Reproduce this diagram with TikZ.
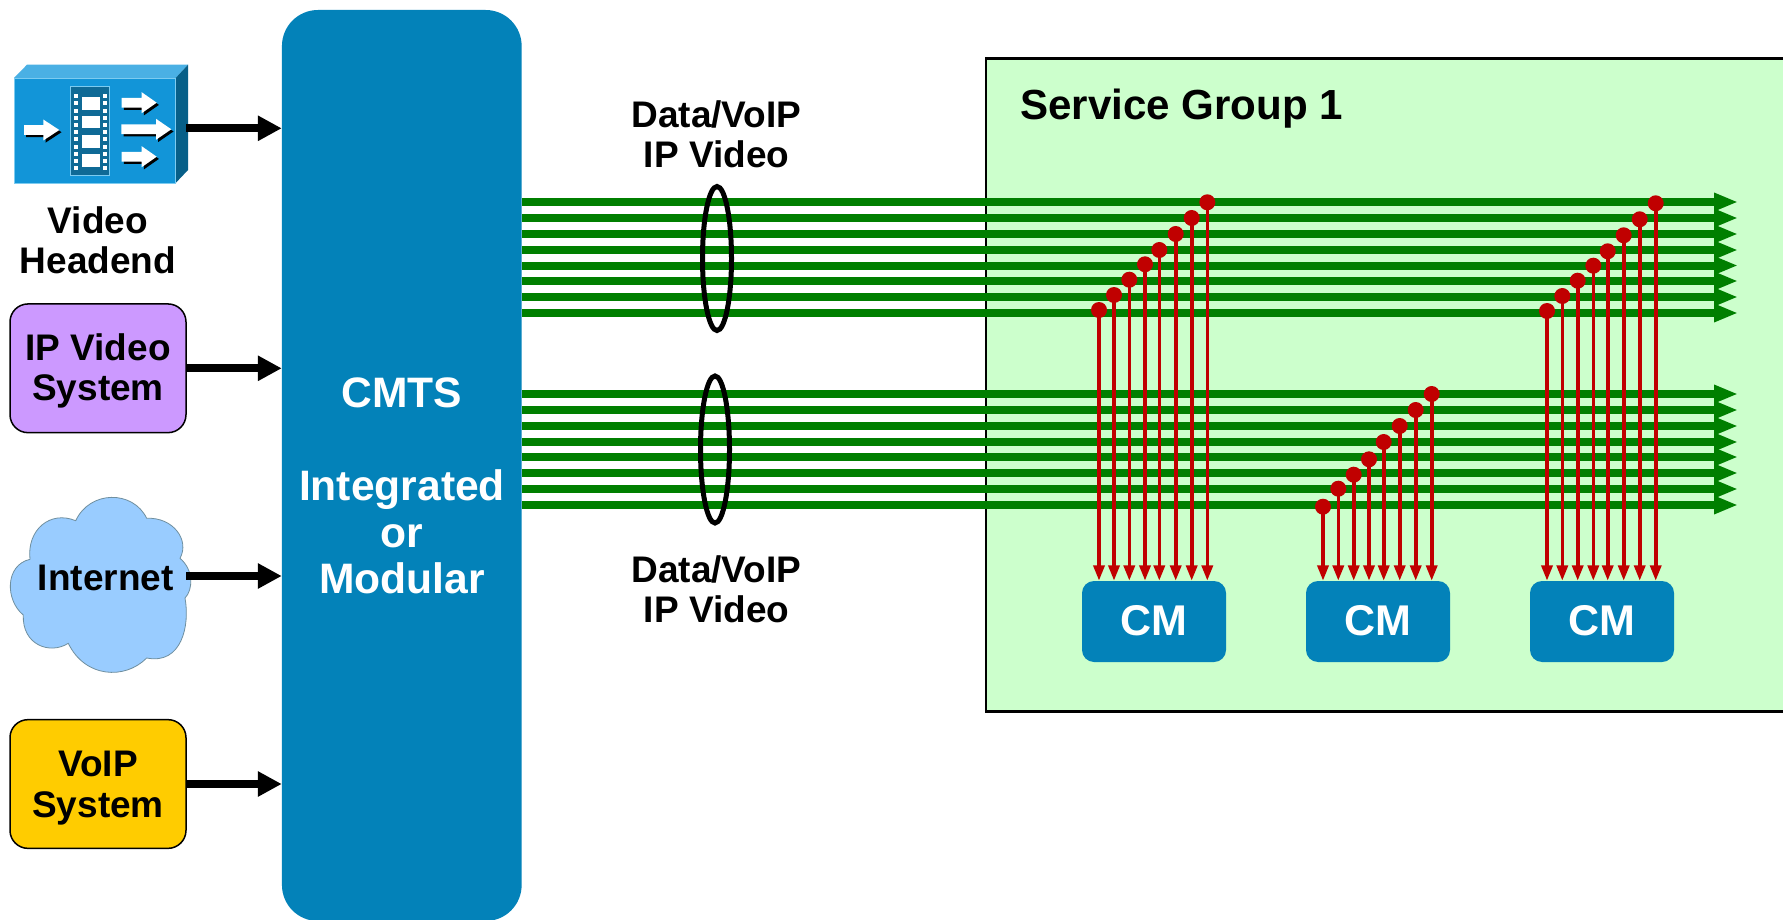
\documentclass[tikz,border=0pt]{standalone}
\usepackage{fontspec}
\setmainfont{Liberation Sans}
\usetikzlibrary{arrows.meta,shapes.geometric}
\definecolor{cmtsblue}{HTML}{0382B9}
\definecolor{sggreen}{HTML}{CCFFCC}
\definecolor{linegreen}{HTML}{007F00}
\definecolor{dropred}{HTML}{C00000}
\definecolor{ipviolet}{HTML}{CC99FF}
\definecolor{voipgold}{HTML}{FFCC00}
\definecolor{cloudblue}{HTML}{99CCFF}
\definecolor{cloudedge}{HTML}{6F8F9F}
\definecolor{iconfront}{HTML}{1295D8}
\definecolor{icontop}{HTML}{4AB0E4}
\definecolor{iconside}{HTML}{075F88}
\definecolor{iconedge}{HTML}{7CCBF0}
\definecolor{filmdark}{HTML}{0F6A96}
\newcommand{\labelfont}{\bfseries\fontsize{37}{40.5}\selectfont}
\newcommand{\bigfont}{\bfseries\fontsize{42.6}{46.5}\selectfont}
\newcommand{\whitearrow}[5]{%
  \fill[black,shift={(2.2,2.2)}] (#1,#4-#5*.47) -- (#2,#4-#5*.47) -- (#2,#4-#5) -- (#3,#4) -- (#2,#4+#5) -- (#2,#4+#5*.47) -- (#1,#4+#5*.47) -- cycle;
  \fill[white] (#1,#4-#5*.47) -- (#2,#4-#5*.47) -- (#2,#4-#5) -- (#3,#4) -- (#2,#4+#5) -- (#2,#4+#5*.47) -- (#1,#4+#5*.47) -- cycle;
}
\tikzset{
  sysbox/.style={draw=black,line width=1.5pt,rounded corners=18pt,minimum width=176pt,minimum height=128.7pt,inner sep=0pt,align=center,font=\labelfont,text=black},
  blockbox/.style={fill=cmtsblue,rounded corners=36pt,minimum width=239.7pt,minimum height=911pt,inner sep=0pt},
  cmbox/.style={fill=cmtsblue,rounded corners=12pt,minimum width=144pt,minimum height=81pt,inner sep=0pt,text=white,font=\bfseries\fontsize{43}{46}\selectfont},
  feedarrow/.style={line width=8pt,-{Triangle[length=24pt,width=24pt]}},
  greenline/.style={draw=linegreen,line width=8pt,-{Triangle[length=24pt,width=17pt]}},
  dropline/.style={draw=dropred,line width=3.6pt,-{Triangle[length=15.5pt,width=11pt]}},
  reddot/.style={circle,fill=dropred,minimum size=16pt,inner sep=0pt},
  bundle/.style={draw=black,line width=5pt,ellipse,minimum width=29pt,minimum height=144pt,inner sep=0pt},
  caption/.style={inner sep=0pt,font=\labelfont,align=center,text=black},
}
\begin{document}
\begin{tikzpicture}[x=1pt,y=-1pt]
\useasboundingbox (0,0) rectangle (1783,920);
\clip (0,0) rectangle (1783,920);
\fill[white] (0,0) rectangle (1783,920);
% service group
\draw[fill=sggreen,line width=2.5pt] (986,58.3) rectangle (1800,711.7);
\node[anchor=base west,inner sep=0pt,font=\bfseries\fontsize{42.1}{46}\selectfont] (sg) at (1020,119.3) {Service Group 1};
% CMTS
\node[blockbox] (cmts) at (401.8,465.5) {};
\node[inner sep=0pt,align=center,text=white,font=\bigfont] (cmtslabel) at (402,486) {CMTS\\ \\Integrated\\or\\Modular};
% CM boxes
\node[cmbox] (cm1) at (1154,621.5) {\rule[-2pt]{0pt}{2pt}CM};
\node[cmbox] (cm2) at (1378,621.5) {\rule[-2pt]{0pt}{2pt}CM};
\node[cmbox] (cm3) at (1602,621.5) {\rule[-2pt]{0pt}{2pt}CM};
% video headend icon
\fill[icontop] (14,78) -- (27,64.7) -- (188,64.7) -- (175.7,78) -- cycle;
\fill[iconside] (175.7,78) -- (188,64.7) -- (188,170) -- (175.7,183) -- cycle;
\node[fill=iconfront,draw=iconedge,line width=.8pt,minimum width=161.7pt,minimum height=105pt,inner sep=0pt] (video) at (94.8,130.5) {};
\draw[iconedge,line width=.8pt,fill=filmdark] (70.7,86.7) rectangle (109.7,175.3);
\foreach \y in {97,115.7,135,154} \fill[white] (81.7,\y) rectangle (100,\y+12.8);
\foreach \n in {0,...,10} {
  \fill[white] (74,{94.3+7.2*\n}) rectangle (78,{98.3+7.2*\n});
  \fill[white] (103,{94.3+7.2*\n}) rectangle (107,{98.3+7.2*\n});
}
\whitearrow{24}{43.3}{59.3}{130}{10.5}
\whitearrow{121.7}{141.7}{156.7}{102.7}{10.5}
\whitearrow{121.3}{156}{171.3}{129.3}{10.5}
\whitearrow{121.7}{141.7}{156.7}{156.7}{10.5}
\coordinate (videoport) at (186,128.3);
\node[caption] (videolabel) at (98,240.5) {Video\\Headend};
% systems
\node[sysbox,fill=ipviolet] (ip) at (98,368.3) {\rule{0pt}{32pt}IP Video\\System};
\node[sysbox,fill=voipgold] (voip) at (98,784) {\rule{0pt}{33.6pt}VoIP\\System};
% cloud
\filldraw[fill=cloudblue,draw=cloudedge,line width=.8pt] (30,559.3)
  .. controls (26.7,530) and (50,510) .. (75.7,520.7)
  .. controls (90,490) and (133,490) .. (146.7,518.3)
  .. controls (173,517) and (190,540) .. (180,558.3)
  .. controls (194,570) and (193,590) .. (185,598)
  .. controls (190,625) and (182,665) .. (146.7,658)
  .. controls (125,680) and (85,678) .. (68.3,643.3)
  .. controls (50,655) and (22,645) .. (23.3,615)
  .. controls (5,600) and (5,565) .. (30,559.3) -- cycle;
\node[anchor=base,inner sep=0pt,font=\labelfont] (internet) at (105.8,590.7) {Internet};
\coordinate (netport) at (186,576);
% feeds
\draw[feedarrow] (videoport) -- (cmts.west |- videoport);
\draw[feedarrow] (ip.east) -- (cmts.west |- ip.east);
\draw[feedarrow] (netport) -- (cmts.west |- netport);
\draw[feedarrow] (voip.east) -- (cmts.west |- voip.east);
% green carriers
\foreach \i/\y in {1/202,2/218,3/234,4/250,5/265.5,6/281,7/297,8/313,9/394,10/410,11/426,12/442,13/457,14/473,15/489,16/505} {
  \coordinate (gend\i) at (1738,\y);
  \draw[greenline] (cmts.east |- gend\i) -- (gend\i);
}
% bundles
\node[bundle] (b1) at (717,258.5) {};
\node[bundle,minimum height=147pt] (b2) at (715,449.5) {};
\node[caption] (l1) at (716.5,134.5) {Data/VoIP\\IP Video};
\node[caption] (l2) at (716.5,589.5) {Data/VoIP\\IP Video};
% drops
\foreach \g/\cm/\pts in {
  a/cm1/{1099/310,1114/295,1129.3/279.7,1145/264.3,1159.3/250,1175.7/234,1191.7/218,1207.3/202.3},
  b/cm2/{1323/506.7,1338.3/488.7,1353.7/474.7,1369/459.3,1383.7/442,1399.7/426,1415.7/410,1431.7/394},
  c/cm3/{1547/311,1562.3/296,1577.7/280.7,1593.3/265.7,1607.7/251.3,1623.7/235.3,1639.7/219.3,1655.7/203.3}} {
  \foreach \x/\y [count=\k] in \pts {
    \node[reddot] (d\g\k) at (\x,\y) {};
    \draw[dropline] (d\g\k.center) -- (d\g\k.center |- \cm.north);
  }
}
\end{tikzpicture}
\end{document}
